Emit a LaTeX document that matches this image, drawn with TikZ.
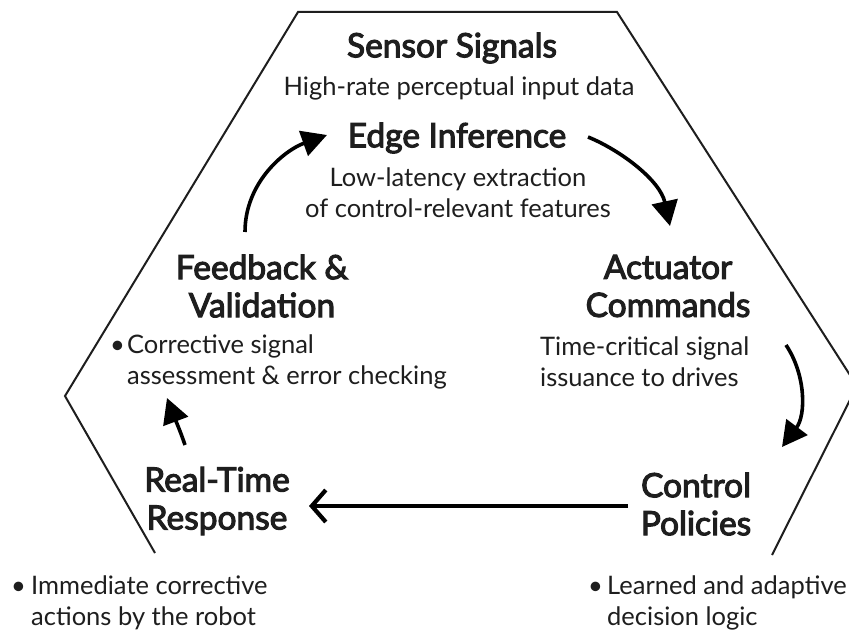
\documentclass[tikz,border=0pt]{standalone}
\usepackage{fontspec}
\setmainfont{Lato}
\newfontfamily\titlefont{Lato}[FakeBold=3.2]
\usetikzlibrary{arrows.meta}
\definecolor{ink}{HTML}{1E1E1E}
\begin{document}
\begin{tikzpicture}[x=1pt,y=-1pt,
  title/.style={font=\titlefont\fontsize{33.5}{38}\selectfont, text=ink, align=center, inner sep=0pt},
  body/.style={font=\fontsize{25.5}{31}\selectfont, text=ink, inner sep=0pt},
  flow/.style={line width=3.6pt, draw=black, -{Triangle[length=25pt,width=26pt]}},
  return/.style={line width=4.2pt, draw=black, -{Straight Barb[length=14pt,width=32pt]}},
  frame/.style={line width=2pt, draw=ink, line join=miter},
]
\useasboundingbox (0,0) rectangle (849,634);
\fill[white] (0,0) rectangle (849,634);
\clip (0,0) rectangle (849,634);

% open hexagonal frame
\draw[frame] (155,553) -- (65,396) -- (298,12) -- (617,12) -- (857,386) -- (772,555);

% stage titles and descriptions
\node[title] (sensor) at (452,48) {Sensor Signals};
\node[body, align=center] (sensorTxt) at (459,88) {High-rate perceptual input data};
\node[title] (edge) at (457,138) {Edge Inference};
\node[body, align=center] (edgeTxt) at (458,193) {Low-latency extraction\\of control-relevant features};
\node[title] (feedback) at (262,286) {Feedback \&\\Validation};
\node[title] (actuator) at (668,286) {Actuator\\Commands};
\node[body, align=left, anchor=west] (feedbackTxt) at (110,362)
  {\makebox[17pt][l]{\textbullet}Corrective signal\\\hspace*{17pt}assessment \& error checking};
\node[body, align=left, anchor=west] (actuatorTxt) at (540,362)
  {Time-critical signal\\issuance to drives};
\node[title] (realtime) at (217,501) {Real-Time\\Response};
\node[title] (control) at (696,504) {Control\\Policies};
\node[body, align=left, anchor=west] (realtimeTxt) at (11,603)
  {\makebox[20pt][l]{\textbullet}Immediate corrective\\\hspace*{20pt}actions by the robot};
\node[body, align=left, anchor=west] (controlTxt) at (588,603)
  {\makebox[19pt][l]{\textbullet}Learned and adaptive\\\hspace*{19pt}decision logic};

% arrow end points
\coordinate (fbOut) at (245,232);
\coordinate (edgeIn) at (327,135);
\coordinate (edgeOut) at (588,137);
\coordinate (actIn) at (670,226);
\coordinate (actOut) at (786,345);
\coordinate (ctrlIn) at (782,447);
\coordinate (ctrlOut) at (628,506);
\coordinate (rtIn) at (309,506);
\coordinate (rtOut) at (185,445);
\coordinate (fbIn) at (167,398);

% loop arrows
\draw[flow] (fbOut) .. controls (245,182) and (285,150) .. (edgeIn);
\draw[flow] (edgeOut) .. controls (620,150) and (660,180) .. (actIn);
\draw[flow] (actOut) .. controls (806,375) and (806,415) .. (ctrlIn);
\draw[flow] (rtOut) .. controls (180,430) and (173,414) .. (fbIn);
\draw[return] (ctrlOut) -- (rtIn);
\end{tikzpicture}
\end{document}
